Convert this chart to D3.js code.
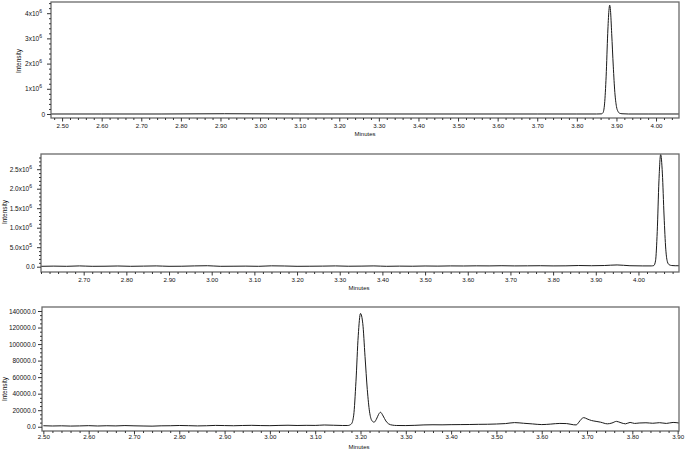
<!DOCTYPE html>
<html><head><meta charset="utf-8">
<script src="https://cdn.jsdelivr.net/npm/d3@7"></script>
<style>
body{margin:0;background:#fff}
svg{display:block}
text{font-family:"Liberation Sans",Arial,sans-serif;fill:#111}
</style>
</head><body>
<svg id="c" width="685" height="451"></svg>
<script>
// ---------- DATA ----------
// Panel 1 (intensity in units of 1e6)
const p1Time = [2.472, 2.60, 2.75, 2.91, 3.10, 3.30, 3.50, 3.70, 3.80, 3.85, 3.862, 3.866, 3.870, 3.874, 3.878, 3.881, 3.883, 3.885, 3.888, 3.892, 3.896, 3.900, 3.904, 3.908, 3.914, 3.93, 3.98, 4.058];
const p1Intensity = [0, 0, 0, 0.01, 0, 0, 0, 0, 0, 0, 0.005, 0.05, 0.4, 1.5, 3.2, 4.1, 4.32, 4.1, 3.2, 1.9, 0.85, 0.3, 0.1, 0.03, 0.01, 0, 0, 0];
const p1XTicks = [2.50, 2.60, 2.70, 2.80, 2.90, 3.00, 3.10, 3.20, 3.30, 3.40, 3.50, 3.60, 3.70, 3.80, 3.90, 4.00];
const p1YTicks = [0, 1, 2, 3, 4];

// Panel 2 (intensity in units of 1e6)
const p2Time = [2.60, 2.63, 2.66, 2.69, 2.72, 2.75, 2.78, 2.81, 2.84, 2.87, 2.90, 2.93, 2.96, 2.99, 3.02, 3.05, 3.08, 3.11, 3.14, 3.17, 3.20, 3.23, 3.26, 3.29, 3.32, 3.35, 3.38, 3.41, 3.44, 3.47, 3.50, 3.53, 3.56, 3.59, 3.62, 3.65, 3.68, 3.71, 3.74, 3.77, 3.80, 3.83, 3.86, 3.89, 3.92, 3.95, 3.98, 4.01, 4.03, 4.036, 4.040, 4.044, 4.048, 4.052, 4.056, 4.060, 4.064, 4.068, 4.072, 4.078, 4.086, 4.095];
const p2Intensity = [0.01, 0.015, 0.01, 0.02, 0.01, 0.012, 0.018, 0.01, 0.015, 0.02, 0.01, 0.012, 0.02, 0.025, 0.01, 0.012, 0.015, 0.01, 0.022, 0.018, 0.01, 0.012, 0.015, 0.02, 0.012, 0.015, 0.02, 0.01, 0.015, 0.012, 0.018, 0.015, 0.02, 0.018, 0.022, 0.02, 0.025, 0.02, 0.022, 0.025, 0.02, 0.022, 0.03, 0.025, 0.03, 0.045, 0.025, 0.02, 0.02, 0.03, 0.15, 0.9, 2.2, 2.88, 2.4, 1.3, 0.45, 0.12, 0.05, 0.03, 0.025, 0.025];
const p2XTicks = [2.70, 2.80, 2.90, 3.00, 3.10, 3.20, 3.30, 3.40, 3.50, 3.60, 3.70, 3.80, 3.90, 4.00];
const p2YTicks = [0, 0.5, 1.0, 1.5, 2.0, 2.5];

// Panel 3 (absolute intensity)
const p3Time = [2.50, 2.52, 2.54, 2.56, 2.58, 2.60, 2.62, 2.64, 2.66, 2.68, 2.70, 2.72, 2.74, 2.76, 2.78, 2.80, 2.82, 2.84, 2.86, 2.88, 2.90, 2.92, 2.94, 2.96, 2.98, 3.00, 3.02, 3.04, 3.06, 3.08, 3.10, 3.12, 3.14, 3.16, 3.172, 3.180, 3.185, 3.190, 3.195, 3.200, 3.205, 3.210, 3.215, 3.220, 3.225, 3.230, 3.235, 3.240, 3.244, 3.250, 3.256, 3.262, 3.27, 3.28, 3.30, 3.32, 3.34, 3.36, 3.38, 3.40, 3.42, 3.44, 3.46, 3.48, 3.50, 3.52, 3.54, 3.56, 3.58, 3.60, 3.62, 3.64, 3.655, 3.67, 3.676, 3.682, 3.687, 3.693, 3.70, 3.71, 3.72, 3.73, 3.745, 3.755, 3.765, 3.775, 3.785, 3.795, 3.805, 3.815, 3.83, 3.845, 3.86, 3.875, 3.89, 3.903];
const p3Intensity = [1200, 900, 1100, 800, 1000, 1300, 900, 1200, 1000, 1400, 1100, 900, 700, 1100, 1200, 1500, 1300, 1000, 1200, 1600, 1400, 1200, 1500, 1700, 1400, 1300, 1600, 1800, 1500, 1700, 1600, 2100, 1800, 1500, 1500, 3500, 14000, 55000, 110000, 137000, 125000, 85000, 45000, 18000, 7500, 5500, 9000, 15000, 17500, 13000, 7000, 3500, 2000, 1500, 1400, 1700, 2200, 2400, 2300, 2500, 2600, 2700, 2900, 3000, 3300, 3800, 5000, 4200, 3400, 2600, 3200, 4000, 3800, 2400, 2200, 5500, 9000, 11000, 9500, 7500, 6500, 5500, 3500, 4500, 6500, 4800, 3500, 5200, 4000, 4500, 4800, 4200, 4900, 4000, 5200, 4500];
const p3XTicks = [2.50, 2.60, 2.70, 2.80, 2.90, 3.00, 3.10, 3.20, 3.30, 3.40, 3.50, 3.60, 3.70, 3.80, 3.90];
const p3YTicks = [0, 20000, 40000, 60000, 80000, 100000, 120000, 140000];

// ---------- LAYOUT ----------
const panels = [
  {time: p1Time, val: p1Intensity, xTicks: p1XTicks, yTicks: p1YTicks,
   xDomain: [2.472, 4.058], yDomain: [-0.159, 4.444],
   box: {l: 51, t: 2, r: 679, b: 118}, xMinorStep: 0.02, yMinorStep: 0.2, xPad: 2.5,
   fmt: v => v === 0 ? ["0", null] : [v + "x10", "6"],
   intX: 18.5, intY: 61, minX: 365, minY: 136},
  {time: p2Time, val: p2Intensity, xTicks: p2XTicks, yTicks: p2YTicks,
   xDomain: [2.60, 4.095], yDomain: [-0.136, 2.89],
   box: {l: 41, t: 154, r: 679, b: 272}, xMinorStep: 0.02, yMinorStep: 0.1, xPad: 2,
   fmt: v => v === 0 ? ["0.0", null] : (v === 0.5 ? ["5.0x10", "5"] : [v.toFixed(1) + "x10", "6"]),
   intX: 4.5, intY: 212, minX: 359, minY: 290},
  {time: p3Time, val: p3Intensity, xTicks: p3XTicks, yTicks: p3YTicks,
   xDomain: [2.497, 3.903], yDomain: [-5160, 144840],
   box: {l: 42, t: 307, r: 679, b: 431}, xMinorStep: 0.02, yMinorStep: 5000, xPad: 0,
   fmt: v => [v.toFixed(1), null],
   intX: 4.5, intY: 389, minX: 359, minY: 448.5}
];

const svg = d3.select("#c");

panels.forEach((p, i) => {
  const {l, t, r, b} = p.box;
  const x = d3.scaleLinear().domain(p.xDomain).range([l, r]);
  const y = d3.scaleLinear().domain(p.yDomain).range([b, t]);
  const g = svg.append("g");

  // clip
  const cid = "clip" + i;
  svg.append("clipPath").attr("id", cid).append("rect")
    .attr("x", l).attr("y", t).attr("width", r - l).attr("height", b - t);

  // trace
  const data = p.time.map((tt, k) => [tt, p.val[k]]);
  g.append("path").datum(data)
    .attr("clip-path", `url(#${cid})`)
    .attr("fill", "none").attr("stroke", "#1a1a1a").attr("stroke-width", 1)
    .attr("d", d3.line().x(d => x(d[0])).y(d => y(d[1])).curve(d3.curveMonotoneX));

  // frame
  g.append("rect").attr("x", l).attr("y", t).attr("width", r - l).attr("height", b - t)
    .attr("fill", "none").attr("stroke", "#6a6a6a").attr("stroke-width", 1.3);

  // x minor ticks
  const xMinor = d3.range(Math.ceil(p.xDomain[0] / p.xMinorStep) * p.xMinorStep, p.xDomain[1], p.xMinorStep)
    .filter(v => !p.xTicks.some(m => Math.abs(m - v) < 1e-6));
  const xm = g.append("g").attr("transform", `translate(0,${b})`)
    .call(d3.axisBottom(x).tickValues(xMinor).tickSize(2).tickSizeOuter(0).tickFormat(""));
  xm.select(".domain").remove();
  xm.selectAll("line").attr("stroke", "#333");

  // x major ticks
  const xa = g.append("g").attr("transform", `translate(0,${b})`)
    .call(d3.axisBottom(x).tickValues(p.xTicks).tickSize(3.5).tickSizeOuter(0).tickPadding(p.xPad).tickFormat(d3.format(".2f")));
  xa.select(".domain").remove();
  xa.selectAll("line").attr("stroke", "#333");
  xa.selectAll("text").attr("font-size", 6.2).attr("fill", "#111")
    .attr("font-family", '"Liberation Sans",Arial,sans-serif');

  // y minor ticks
  const yMinor = d3.range(0, p.yDomain[1], p.yMinorStep)
    .filter(v => !p.yTicks.some(m => Math.abs(m - v) < 1e-6));
  const ym = g.append("g").attr("transform", `translate(${l},0)`)
    .call(d3.axisLeft(y).tickValues(yMinor).tickSize(2).tickSizeOuter(0).tickFormat(""));
  ym.select(".domain").remove();
  ym.selectAll("line").attr("stroke", "#333");

  // y major ticks
  const ya = g.append("g").attr("transform", `translate(${l},0)`)
    .call(d3.axisLeft(y).tickValues(p.yTicks).tickSize(4).tickSizeOuter(0).tickPadding(1.5).tickFormat(""));
  ya.select(".domain").remove();
  ya.selectAll("line").attr("stroke", "#333");
  ya.selectAll(".tick").each(function(v) {
    const [main, sup] = p.fmt(v);
    const txt = d3.select(this).select("text")
      .attr("font-size", 6.5).attr("fill", "#111")
      .attr("font-family", '"Liberation Sans",Arial,sans-serif')
      .attr("x", sup ? -9 : -6);
    txt.append("tspan").text(main);
    if (sup) txt.append("tspan").attr("font-size", 5).attr("dy", -3).text(sup);
  });

  // axis titles
  g.append("text").attr("x", p.minX).attr("y", p.minY)
    .attr("text-anchor", "middle").attr("font-size", 6).text("Minutes");
  g.append("text").attr("transform", `translate(${p.intX},${p.intY}) rotate(-90)`)
    .attr("text-anchor", "middle").attr("dy", "0.35em").attr("font-size", 6.5).text("Intensity");
});
</script>
</body></html>
